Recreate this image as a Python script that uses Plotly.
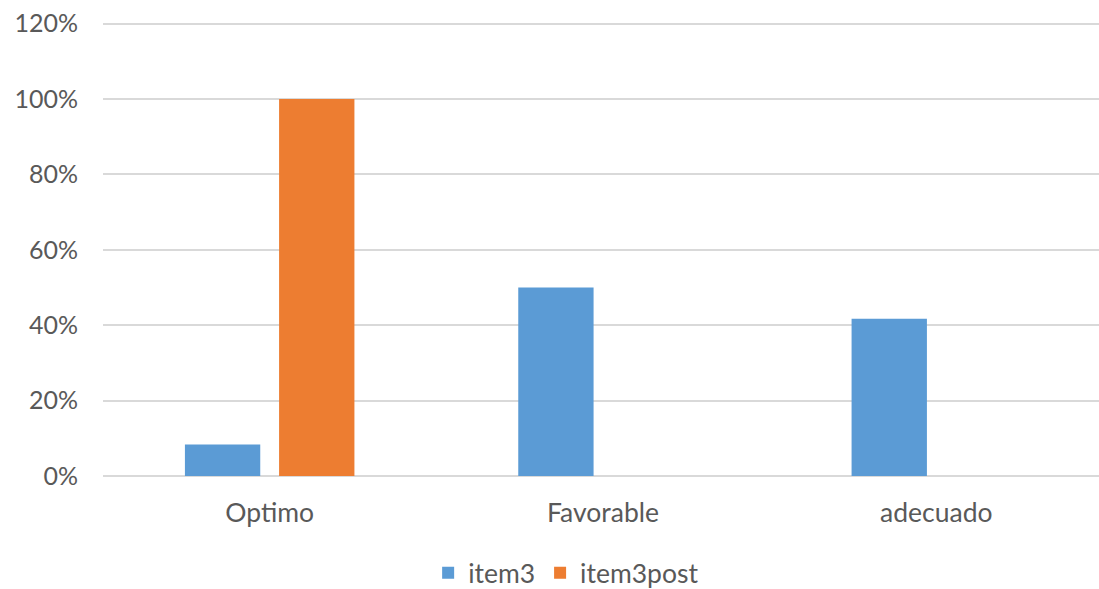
import plotly.graph_objects as go

categories = ["Optimo", "Favorable", "adecuado"]
item3 = [8.33, 50.0, 41.67]
item3post = [100.0, 0, 0]
tick_vals = [0, 20, 40, 60, 80, 100, 120]
tick_text = ["0%", "20%", "40%", "60%", "80%", "100%", "120%"]

FONT = "Lato, 'Open Sans', sans-serif"
GRAY = "#595959"
FS = 25

fig = go.Figure()
fig.add_trace(go.Bar(name="item3", x=categories, y=item3, marker_color="#5B9BD5",
                     marker_line_width=0))
fig.add_trace(go.Bar(name="item3post", x=categories, y=item3post, marker_color="#ED7D31",
                     marker_line_width=0))

fig.update_layout(
    width=1099, height=589,
    margin=dict(l=103, r=0, t=22, b=113, autoexpand=False),
    plot_bgcolor="white", paper_bgcolor="white",
    barmode="group", bargap=0.435, bargroupgap=0.2,
    font=dict(family=FONT, color=GRAY, size=FS),
    xaxis=dict(range=[-0.5, 2.488], showgrid=False, showline=False, ticks="", automargin=False,
               ticklabelstandoff=18, tickfont=dict(size=26.5, color=GRAY)),
    yaxis=dict(range=[0, 120.4], tickvals=tick_vals, ticktext=tick_text, automargin=False,
               showgrid=True, gridcolor="#D9D9D9", gridwidth=1.5, zeroline=True,
               zerolinecolor="#D9D9D9", zerolinewidth=1.5, showline=False,
               ticks="", ticklabelstandoff=24, tickfont=dict(size=FS, color=GRAY)),
    legend=dict(orientation="h", x=0.465, xanchor="center", yref="container",
                y=1 - 573 / 589, yanchor="middle",
                font=dict(size=26.5, color=GRAY), itemwidth=30, tracegroupgap=0),
    showlegend=True,
)

fig.write_html(
    "out.html", config={"displayModeBar": False},
    post_script=("document.documentElement.style.overflow='hidden';"
                 "document.body.style.margin='0';document.body.style.overflow='hidden';"),
)
